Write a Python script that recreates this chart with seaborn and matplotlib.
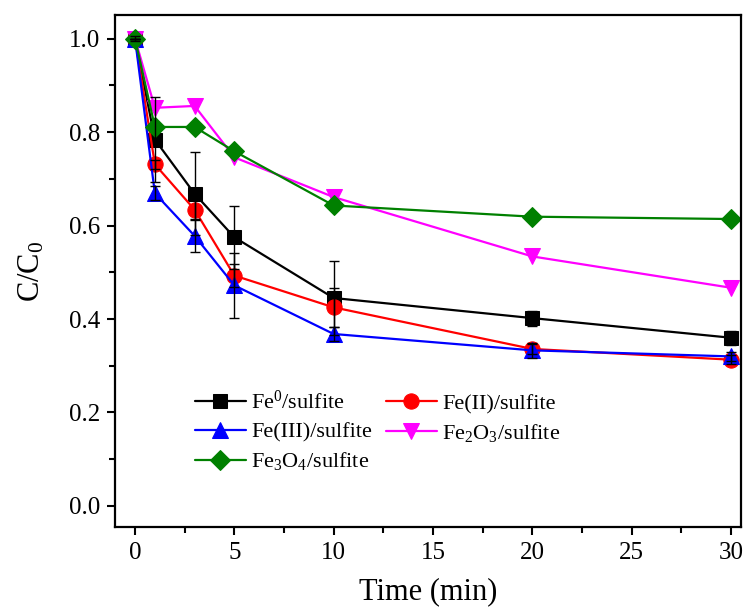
import numpy as np
import pandas as pd
import matplotlib
matplotlib.use("Agg")
import matplotlib.pyplot as plt
import seaborn as sns
from matplotlib.ticker import MultipleLocator

# ---- data ----
time_min = [0, 1, 3, 5, 10, 20, 30]
labels = [r"Fe$^{\mathrm{0}}$/sulfite", "Fe(II)/sulfite", "Fe(III)/sulfite",
          r"Fe$_{\mathrm{2}}$O$_{\mathrm{3}}$/sulfite", r"Fe$_{\mathrm{3}}$O$_{\mathrm{4}}$/sulfite"]
fe0 = [1.0, 0.784, 0.668, 0.575, 0.445, 0.402, 0.360]
fe0_err = [0.005, 0.091, 0.089, 0.067, 0.079, 0.016, 0.015]
fe2 = [1.0, 0.731, 0.634, 0.493, 0.425, 0.336, 0.313]
fe2_err = [0.0, 0.010, 0.020, 0.025, 0.042, 0.010, 0.010]
fe3 = [1.0, 0.669, 0.578, 0.472, 0.368, 0.333, 0.320]
fe3_err = [0.0, 0.015, 0.034, 0.070, 0.016, 0.016, 0.010]
fe2o3 = [1.0, 0.852, 0.856, 0.746, 0.661, 0.534, 0.467]
fe3o4 = [1.0, 0.811, 0.811, 0.759, 0.643, 0.619, 0.614]

series = [fe0, fe2, fe3, fe2o3, fe3o4]
errors = [fe0_err, fe2_err, fe3_err, None, None]
colors = ["black", "red", "blue", "magenta", "green"]
markers = ["s", "o", "^", "v", "D"]
msizes = [10, 11, 11, 11, 10]

sns.set_theme(style="ticks")
plt.rcParams["font.family"] = ["Liberation Serif", "DejaVu Serif"]
plt.rcParams["mathtext.fontset"] = "custom"
plt.rcParams["mathtext.rm"] = "Liberation Serif"
plt.rcParams["mathtext.it"] = "Liberation Serif:italic"
plt.rcParams["mathtext.bf"] = "Liberation Serif:bold"
for key in ["text.color", "axes.labelcolor", "xtick.color", "ytick.color",
            "xtick.labelcolor", "ytick.labelcolor", "axes.edgecolor"]:
    plt.rcParams[key] = "black"

fig = plt.figure(figsize=(7.43, 6.11), dpi=100)
ax = fig.add_axes([0.155, 0.1375, 0.842, 0.8375])

for vals, err, col, mk, ms, lab in zip(series, errors, colors, markers, msizes, labels):
    df = pd.DataFrame({"t": time_min, "v": vals})
    sns.lineplot(data=df, x="t", y="v", ax=ax, color=col, marker=mk, markersize=ms,
                 markeredgecolor=col, linewidth=1.6, label=lab, legend=False)
    if err is not None:
        ax.errorbar(time_min, vals, yerr=err, fmt="none", ecolor="black",
                    elinewidth=1.0, capsize=3.8, capthick=1.0, zorder=5)

ax.set_xlim(-1.0, 30.5)
ax.set_ylim(-0.045, 1.05)
ax.xaxis.set_major_locator(MultipleLocator(5))
ax.xaxis.set_minor_locator(MultipleLocator(2.5))
ax.yaxis.set_major_locator(MultipleLocator(0.2))
ax.yaxis.set_minor_locator(MultipleLocator(0.1))
ax.yaxis.set_major_formatter(matplotlib.ticker.FormatStrFormatter("%.1f"))
ax.tick_params(which="major", direction="out", length=6, width=1.5, labelsize=18,
               top=False, right=False, pad=5, colors="black")
ax.tick_params(which="minor", direction="out", length=4, width=1.5, top=False,
               right=False, colors="black")
for sp in ax.spines.values():
    sp.set_linewidth(1.6)
    sp.set_color("black")
    sp.set_visible(True)

ax.set_xlabel("Time (min)", fontsize=22, labelpad=9)
ax.set_ylabel(r"C/C$_{\mathrm{0}}$", fontsize=22, labelpad=16)

h, l = ax.get_legend_handles_labels()
order = [0, 2, 4, 1, 3]
ax.legend([h[i] for i in order], [l[i] for i in order], ncol=2, frameon=False,
          fontsize=16, loc="upper left", bbox_to_anchor=(0.113, 0.283),
          borderaxespad=0, handlelength=2.3, labelspacing=0.35, columnspacing=0.6,
          handletextpad=0.25)

fig.savefig("out.png", dpi=100)
